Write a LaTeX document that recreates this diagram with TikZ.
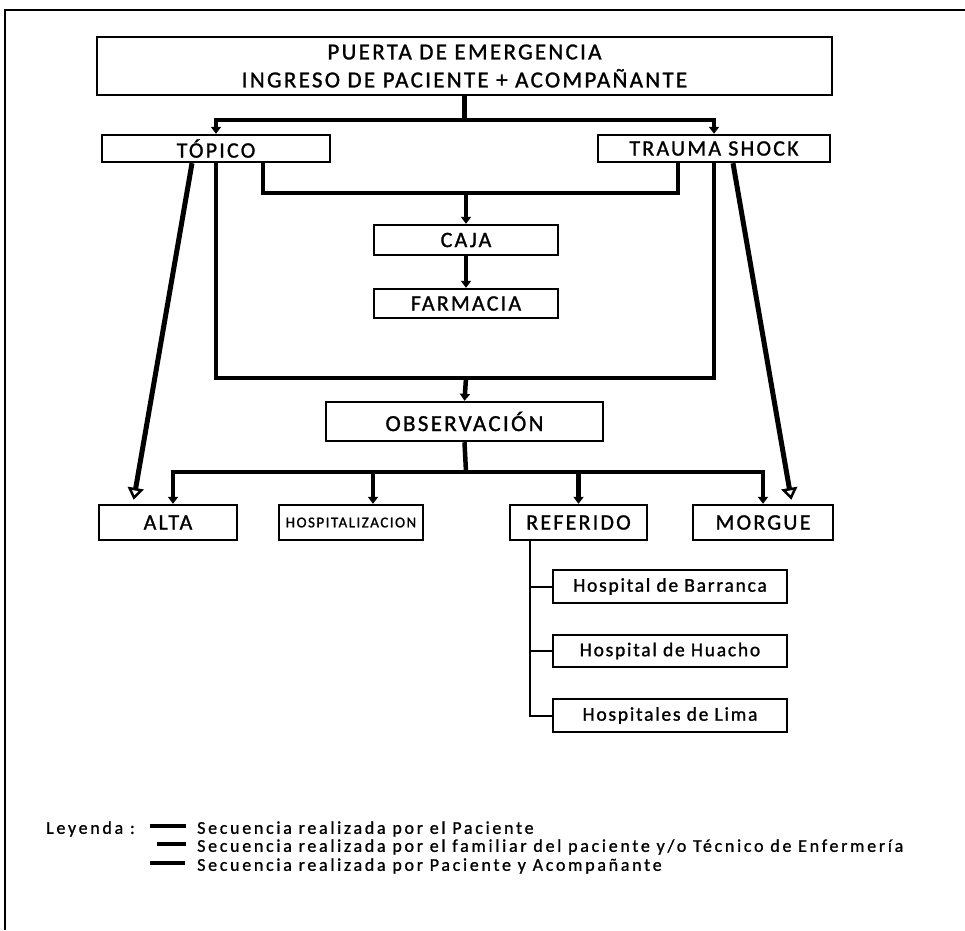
\documentclass[tikz,border=0pt]{standalone}
\usepackage{fontspec}
\setmainfont{Carlito}
\newfontfamily\lblfont[LetterSpace=10,FakeBold=1.2]{Carlito}
\newfontfamily\hosfont[LetterSpace=9,FakeBold=1.2]{Carlito}
\newfontfamily\legfont[LetterSpace=15,FakeBold=1]{Carlito}
\usetikzlibrary{arrows.meta,calc}
\begin{document}
\begin{tikzpicture}[x=1pt,y=-1pt,
  box/.style={draw, line width=2.4pt, rectangle, inner sep=0pt, align=center,
    font=\lblfont\fontsize{22pt}{24pt}\selectfont},
  hbox/.style={box, line width=2.8pt, font=\hosfont\fontsize{19.5pt}{21pt}\selectfont},
  conn/.style={line width=4.5pt},
  arr/.style={-{Triangle[length=7pt,width=10pt]}},
  diag/.style={line width=5pt, -{Triangle[open,length=12pt,width=16pt,line width=2.5pt]}},
  thinline/.style={line width=2pt},
  legtxt/.style={anchor=west, inner sep=0pt, font=\legfont\fontsize{18pt}{20pt}\selectfont},
  legline/.style={line width=3.5pt}
]
\useasboundingbox (0,0) rectangle (965,930);
% outer frame (cut at right and bottom)
\draw[line width=2pt] (5,930) -- (5,10) -- (965,10);

% boxes
\node[box, minimum width=735pt, minimum height=58pt,
      font=\lblfont\fontsize{23pt}{28pt}\selectfont] (top) at (464.5,66)
      {PUERTA DE EMERGENCIA\\INGRESO DE PACIENTE + ACOMPAÑANTE};
\node[box, minimum width=228pt, minimum height=27pt] (topico) at (216,148.5) {TÓPICO};
\node[box, minimum width=232pt, minimum height=27pt] (trauma) at (714,148.5) {TRAUMA SHOCK};
\node[box, minimum width=184pt, minimum height=30pt] (caja) at (466,240) {CAJA};
\node[box, minimum width=184pt, minimum height=29pt] (farmacia) at (466,303.5) {FARMACIA};
\node[box, minimum width=277pt, minimum height=39pt,
      font=\lblfont\fontsize{23pt}{25pt}\selectfont] (obs) at (464.5,421.5) {OBSERVACIÓN};
\node[box, minimum width=138pt, minimum height=35pt] (alta) at (168,522.5) {ALTA};
\node[box, minimum width=144pt, minimum height=35pt,
      font=\lblfont\fontsize{15pt}{17pt}\selectfont] (hosp) at (351,522.5) {HOSPITALIZACION};
\node[box, minimum width=137pt, minimum height=35pt] (ref) at (578.5,522.5) {REFERIDO};
\node[box, minimum width=140pt, minimum height=35pt] (morgue) at (763,522.5) {MORGUE};
\node[hbox, minimum width=234pt, minimum height=33pt] (barranca) at (670,586.5) {Hospital de Barranca};
\node[hbox, minimum width=234pt, minimum height=32pt] (huacho) at (670,651) {Hospital de Huacho};
\node[hbox, minimum width=234pt, minimum height=33pt] (lima) at (670,715.5) {Hospitales de Lima};

% junction coordinates
\coordinate (j1) at (464.5,120);
\coordinate (j2) at (466,193);
\coordinate (j3) at (466,378);
\coordinate (j4) at (466,472);
\coordinate (rx) at (530,540);

% entrance to Topico / Trauma
\draw[conn] (top.south) -- (j1);
\draw[conn,arr] (j1) -| (topico.north);
\draw[conn,arr] (j1) -| (trauma.north);

% to Caja
\draw[conn] ([xshift=47pt]topico.south) |- (j2) -| ([xshift=-36pt]trauma.south);
\draw[conn,arr] (j2) -- (caja.north);
\draw[conn,arr] (caja.south) -- (farmacia.north);

% to Observacion
\draw[conn] (topico.south) |- (j3) -| (trauma.south);
\draw[conn,arr] (j3) -- (obs.north);

% from Observacion
\draw[conn] (obs.south) -- (j4);
\draw[conn,arr] (j4) -| ([xshift=5pt]alta.north);
\draw[conn,arr] (j4) -| ([xshift=22pt]hosp.north);
\draw[conn,arr] (j4) -| (ref.north);
\draw[conn,arr] (j4) -| (morgue.north);

% patient direct routes
\draw[diag, shorten >=4pt] ([xshift=-24pt]topico.south) -- ([xshift=-35pt]alta.north);
\draw[diag, shorten >=4pt] ([xshift=19pt]trauma.south) -- ([xshift=29pt]morgue.north);

% referral branch
\draw[thinline] (rx) |- (lima.west);
\draw[thinline] (barranca.west) -- (barranca.west -| rx);
\draw[thinline] (huacho.west) -- (huacho.west -| rx);

% legend
\node[legtxt] (leyenda) at (46,829) {Leyenda :};
\node[legtxt] (l1) at (197,829) {Secuencia realizada por el Paciente};
\node[legtxt] (l2) at (197,847) {Secuencia realizada por el familiar del paciente y/o Técnico de Enfermería};
\node[legtxt] (l3) at (197,866) {Secuencia realizada por Paciente y Acompañante};
\draw[legline] ([xshift=-47pt,yshift=3pt]l1.west) -- ([xshift=-11pt,yshift=3pt]l1.west);
\draw[legline] ([xshift=-40pt,yshift=3pt]l2.west) -- ([xshift=-11pt,yshift=3pt]l2.west);
\draw[legline] ([xshift=-47pt,yshift=3pt]l3.west) -- ([xshift=-12pt,yshift=3pt]l3.west);
\end{tikzpicture}
\end{document}
